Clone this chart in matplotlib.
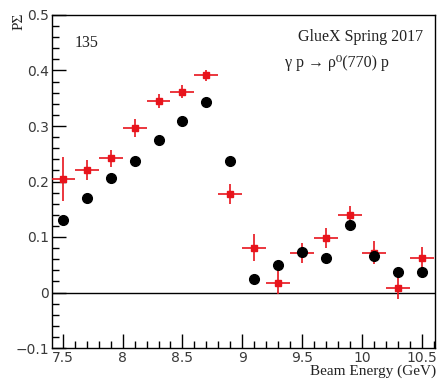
import matplotlib
matplotlib.use("Agg")
import matplotlib.pyplot as plt
from matplotlib.ticker import MultipleLocator, FixedLocator, FuncFormatter

beam_energy = [7.5, 7.7, 7.9, 8.1, 8.3, 8.5, 8.7, 8.9, 9.1, 9.3, 9.5, 9.7, 9.9, 10.1, 10.3, 10.5]
black_vals = [0.130, 0.170, 0.207, 0.237, 0.274, 0.309, 0.343, 0.237, 0.024, 0.050, 0.073, 0.063, 0.122, 0.066, 0.037, 0.037]
black_errs = [0.008, 0.004, 0.004, 0.004, 0.004, 0.004, 0.004, 0.005, 0.008, 0.007, 0.007, 0.006, 0.007, 0.007, 0.007, 0.006]
red_vals = [0.204, 0.221, 0.242, 0.297, 0.345, 0.362, 0.391, 0.177, 0.081, 0.018, 0.072, 0.098, 0.140, 0.072, 0.009, 0.062]
red_errs = [0.040, 0.018, 0.015, 0.016, 0.012, 0.012, 0.010, 0.018, 0.025, 0.020, 0.018, 0.018, 0.015, 0.020, 0.020, 0.020]
bin_half_width = 0.1
x_ticks = [7.5, 8, 8.5, 9, 9.5, 10, 10.5]

W, H = 437, 382
fig = plt.figure(figsize=(W / 100, H / 100), dpi=100)
ax = fig.add_axes([52 / W, (H - 348) / H, (435 - 52) / W, (348 - 15) / H])

ax.errorbar(beam_energy, red_vals, yerr=red_errs, xerr=bin_half_width, fmt='s',
            color='#e8141c', ecolor='#e8141c', markersize=5, elinewidth=1.2,
            capsize=0, zorder=3)
ax.errorbar(beam_energy, black_vals, yerr=black_errs, fmt='o', color='black',
            markersize=7, elinewidth=1.2, capsize=0, zorder=4)

ax.axhline(0, color='black', lw=1, zorder=1)

ax.set_xlim(7.41, 10.61)
ax.set_ylim(-0.1, 0.5)
ax.xaxis.set_major_locator(FixedLocator(x_ticks))
ax.xaxis.set_minor_locator(MultipleLocator(0.1))
ax.yaxis.set_major_locator(MultipleLocator(0.1))
ax.yaxis.set_minor_locator(MultipleLocator(0.02))
ax.xaxis.set_major_formatter(FuncFormatter(lambda v, p: '%g' % v))
ax.yaxis.set_major_formatter(FuncFormatter(
    lambda v, p: '0' if abs(v) < 1e-9 else ('\u2212' if v < 0 else '') + ('%g' % round(abs(v), 3))))

ax.tick_params(axis='both', which='major', direction='in', length=10, width=1,
               labelsize=10, top=False, right=False, pad=2, labelcolor='#3a3a3a')
ax.tick_params(axis='both', which='minor', direction='in', length=5, width=1,
               top=False, right=False)
for s in ax.spines.values():
    s.set_linewidth(1)

serif = ['Liberation Serif', 'DejaVu Serif']
ax.text(7.6, 0.443, '135', fontsize=11.5, family=serif, color='#222222')
fig.text(423 / W, (H - 41) / H, 'GlueX Spring 2017', fontsize=11.5, family=serif,
         ha='right', va='baseline', color='#222222')
fig.text(285 / W, (H - 67) / H, '\u03b3 p \u2192 \u03c1\u2070(770) p', fontsize=11.5, family=serif,
         ha='left', va='baseline', color='#222222')
fig.text(436 / W, 4 / H, 'Beam Energy (GeV)', fontsize=11, family=serif,
         ha='right', va='bottom', color='#222222')
fig.text(19 / W, (H - 13) / H, 'P\u03a3', fontsize=11, family=serif, rotation=90,
         ha='center', va='top', color='#222222')

fig.savefig('out.png', dpi=100)
